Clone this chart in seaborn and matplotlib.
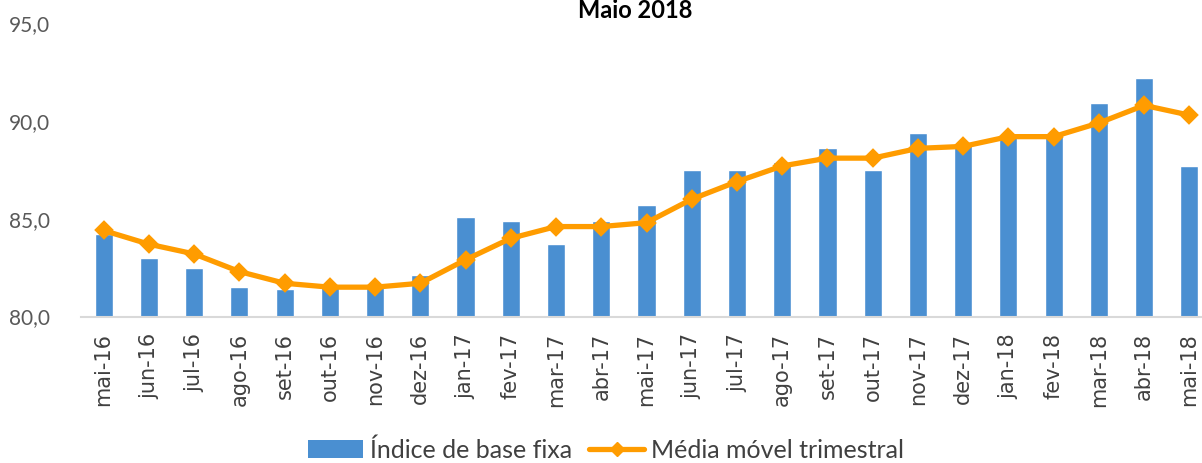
import matplotlib
matplotlib.use("Agg")
import matplotlib.pyplot as plt
from matplotlib.ticker import FuncFormatter
from matplotlib.patches import Patch
from matplotlib.lines import Line2D
import seaborn as sns

months = ['mai-16', 'jun-16', 'jul-16', 'ago-16', 'set-16', 'out-16', 'nov-16', 'dez-16',
          'jan-17', 'fev-17', 'mar-17', 'abr-17', 'mai-17', 'jun-17', 'jul-17', 'ago-17',
          'set-17', 'out-17', 'nov-17', 'dez-17', 'jan-18', 'fev-18', 'mar-18', 'abr-18', 'mai-18']
indice = [84.2, 83.0, 82.5, 81.5, 81.4, 81.6, 81.5, 82.1,
          85.1, 84.9, 83.7, 84.9, 85.7, 87.5, 87.5, 87.9,
          88.6, 87.5, 89.4, 88.9, 89.3, 89.4, 90.9, 92.2, 87.7]
media = [84.4, 83.7, 83.2, 82.3, 81.7, 81.5, 81.5, 81.7,
         82.9, 84.0, 84.6, 84.6, 84.8, 86.0, 86.9, 87.7,
         88.1, 88.1, 88.6, 88.7, 89.2, 89.2, 89.9, 90.8, 90.3]

blue = '#4a8fd1'
orange = '#ff9c00'

sns.set_style("white")
plt.rcParams['font.family'] = ['Lato', 'DejaVu Sans']

fig = plt.figure(figsize=(12.02, 4.63), dpi=100)
# axes runs a bit past the right edge, like the clipped original
ax = fig.add_axes([81 / 1202, 146.5 / 463, 1131 / 1202, 293.25 / 463])

sns.barplot(x=months, y=indice, color=blue, width=0.4, saturation=1, ax=ax, zorder=2)
sns.pointplot(x=months, y=media, color=orange, markers='D', linestyles='-',
              markersize=7, linewidth=3.8, ax=ax, zorder=3)

ax.set_ylim(80, 95)
ax.set_yticks([80, 85, 90, 95])
ax.yaxis.set_major_formatter(FuncFormatter(lambda v, p: f"{v:.1f}".replace('.', ',')))
ax.tick_params(axis='y', labelsize=15, colors='#595959', length=0, pad=22)
ax.tick_params(axis='x', length=0, pad=12, rotation=90)
for lab in ax.get_xticklabels():
    lab.set_color('#404040')
    lab.set_fontsize(15)
    lab.set_family('DejaVu Sans')
ax.set_xlabel('')
ax.set_ylabel('')
for s in ['top', 'right', 'left']:
    ax.spines[s].set_visible(False)
ax.spines['bottom'].set_color('#d9d9d9')
ax.spines['bottom'].set_linewidth(1.5)

fig.text(635 / 1202, 1 - 18 / 463, 'Maio 2018', ha='center', va='baseline',
         fontsize=17, fontweight='bold', color='black')

handles = [Patch(facecolor=blue, edgecolor='none'),
           Line2D([0], [0], color=orange, lw=3.8, marker='D', markersize=7)]
fig.legend(handles, ['Índice de base fixa', 'Média móvel trimestral'],
           loc='center', bbox_to_anchor=(606 / 1202, 1 - 450 / 463), ncol=2,
           frameon=False, fontsize=18, handlelength=2.2, handletextpad=0.25,
           columnspacing=0.7, labelcolor='#404040')

fig.savefig('out.png', dpi=100)
